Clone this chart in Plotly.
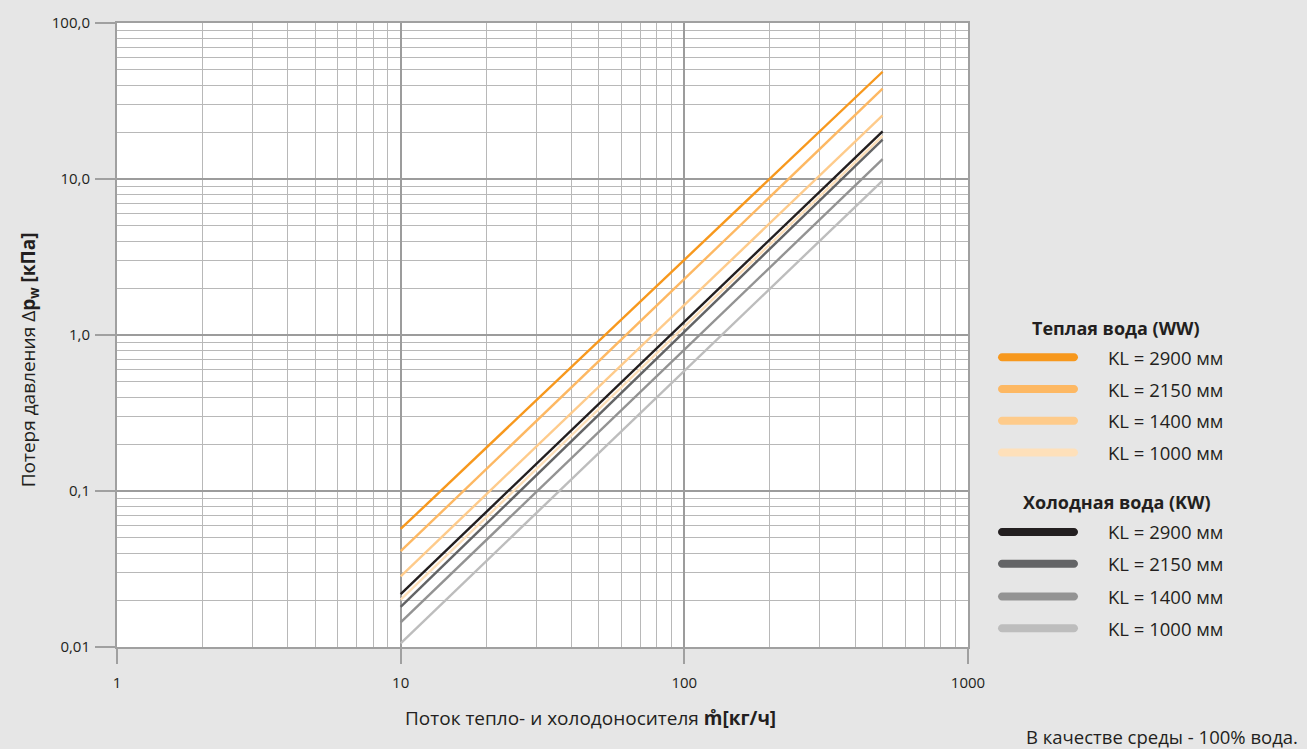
import plotly.graph_objects as go

# Mass flow range covered by each curve [kg/h]
flow = [10, 500]

# Pressure loss at the ends of the flow range [kPa]
ww_2900 = [0.0571, 48.7]
ww_2150 = [0.0411, 37.9]
ww_1400 = [0.0284, 25.6]
ww_1000 = [0.0201, 18.9]
kw_2900 = [0.0218, 20.2]
kw_2150 = [0.0181, 17.9]
kw_1400 = [0.0144, 13.4]
kw_1000 = [0.01056, 9.78]

ww_labels = ["KL = 2900 мм", "KL = 2150 мм", "KL = 1400 мм", "KL = 1000 мм"]
kw_labels = ["KL = 2900 мм", "KL = 2150 мм", "KL = 1400 мм", "KL = 1000 мм"]
ww_colors = ["#F7981D", "#FDB863", "#FECB8B", "#FEE0BA"]
kw_colors = ["#231F20", "#636466", "#939393", "#BDBDBD"]

x_ticks = [1, 10, 100, 1000]
x_ticktext = ["1", "10", "100", "1000"]
y_ticks = [0.01, 0.1, 1, 10, 100]
y_ticktext = ["0,01", "0,1", "1,0", "10,0", "100,0"]

FONT = "Open Sans"
TEXT = "#231F20"
BG = "#E6E6E6"

fig = go.Figure()

# draw order: lighter curves first so darker ones sit on top
draw = [
    (ww_1000, ww_colors[3]), (kw_1000, kw_colors[3]), (kw_1400, kw_colors[2]),
    (kw_2150, kw_colors[1]), (ww_1400, ww_colors[2]), (ww_2150, ww_colors[1]),
    (kw_2900, kw_colors[0]), (ww_2900, ww_colors[0]),
]
for vals, col in draw:
    fig.add_trace(go.Scatter(x=flow, y=vals, mode="lines",
                             line=dict(color=col, width=2.4),
                             showlegend=False, hoverinfo="skip"))

def minor_vals(lo_exp, hi_exp):
    out = []
    for e in range(lo_exp, hi_exp):
        for m in range(2, 10):
            out.append(m * 10 ** e)
    return out

fig.update_xaxes(
    type="log", range=[0, 3],
    tickvals=x_ticks, ticktext=x_ticktext,
    ticks="outside", ticklen=15, tickwidth=2, tickcolor="#A0A0A0",
    ticklabelstandoff=6,
    showgrid=True, gridcolor="#9C9C9C", gridwidth=2,
    minor=dict(tickvals=minor_vals(0, 3), showgrid=True,
               gridcolor="#B8B8B8", gridwidth=1, ticks=""),
    showline=True, linecolor="#A0A0A0", linewidth=2, mirror=True,
    tickfont=dict(family=FONT, size=15, color=TEXT),
    zeroline=False,
)
fig.update_yaxes(
    type="log", range=[-2, 2],
    tickvals=y_ticks, ticktext=y_ticktext,
    ticks="outside", ticklen=20, tickwidth=2, tickcolor="#A0A0A0",
    ticklabelstandoff=2,
    showgrid=True, gridcolor="#9C9C9C", gridwidth=2,
    minor=dict(tickvals=minor_vals(-2, 2), showgrid=True,
               gridcolor="#B8B8B8", gridwidth=1, ticks=""),
    showline=True, linecolor="#A0A0A0", linewidth=2, mirror=True,
    tickfont=dict(family=FONT, size=15, color=TEXT),
    zeroline=False,
)

shapes = []
annotations = []

W, H = 1307, 749
ml, mr, mt, mb = 117, 339, 18, 102
pw, ph = W - ml - mr, H - mt - mb

def px_to_paper(x, y):
    return (x - ml) / pw, (H - mb - y) / ph

def text_at(text, x_px, y_px, size, xanchor="center", angle=0):
    px, py = px_to_paper(x_px, y_px)
    annotations.append(dict(text=text, x=px, y=py, xref="paper", yref="paper",
                            showarrow=False, xanchor=xanchor, yanchor="middle",
                            textangle=angle,
                            font=dict(family=FONT, size=size, color=TEXT)))

# axis titles
text_at("Поток тепло- и холодоносителя <b>m\u030a[кг/ч]</b>", 590, 719, 19)
text_at("Потеря давления Δ<b>p<sub>w</sub> [кПа]</b>", 29, 358, 19, angle=-90)

# custom legend: group titles, rounded swatches and labels
def pill(x_px, y_px, length, thick, color):
    r = thick / 2.0
    k = 0.5523 * r
    L = length - thick
    path = (f"M0,{r} L{L},{r} "
            f"C{L + k},{r} {L + r},{k} {L + r},0 "
            f"C{L + r},{-k} {L + k},{-r} {L},{-r} "
            f"L0,{-r} "
            f"C{-k},{-r} {-r},{-k} {-r},0 "
            f"C{-r},{k} {-k},{r} 0,{r} Z")
    ax, ay = px_to_paper(x_px, y_px)
    return dict(type="path", xref="paper", yref="paper",
                xsizemode="pixel", ysizemode="pixel",
                xanchor=ax, yanchor=ay, path=path,
                fillcolor=color, line=dict(width=0), layer="above")

def add_group(title, title_xy, labels, colors, rows_y):
    text_at(f"<b>{title}</b>", title_xy[0], title_xy[1], 18)
    for lab, col, yy in zip(labels, colors, rows_y):
        shapes.append(pill(1002, yy, 80, 8, col))
        text_at(lab, 1165, yy, 18.5)

add_group("Теплая вода (WW)", (1116, 325), ww_labels, ww_colors, [355, 387, 419, 451])
add_group("Холодная вода (KW)", (1117, 501), kw_labels, kw_colors, [531, 563, 596, 628])

text_at("В качестве среды - 100% вода.", 1300, 737, 18.5, xanchor="right")

fig.update_layout(
    width=W, height=H,
    margin=dict(l=ml, r=mr, t=mt, b=mb),
    paper_bgcolor=BG, plot_bgcolor="white",
    shapes=shapes, annotations=annotations,
    showlegend=False,
)

fig.write_html("out.html")
